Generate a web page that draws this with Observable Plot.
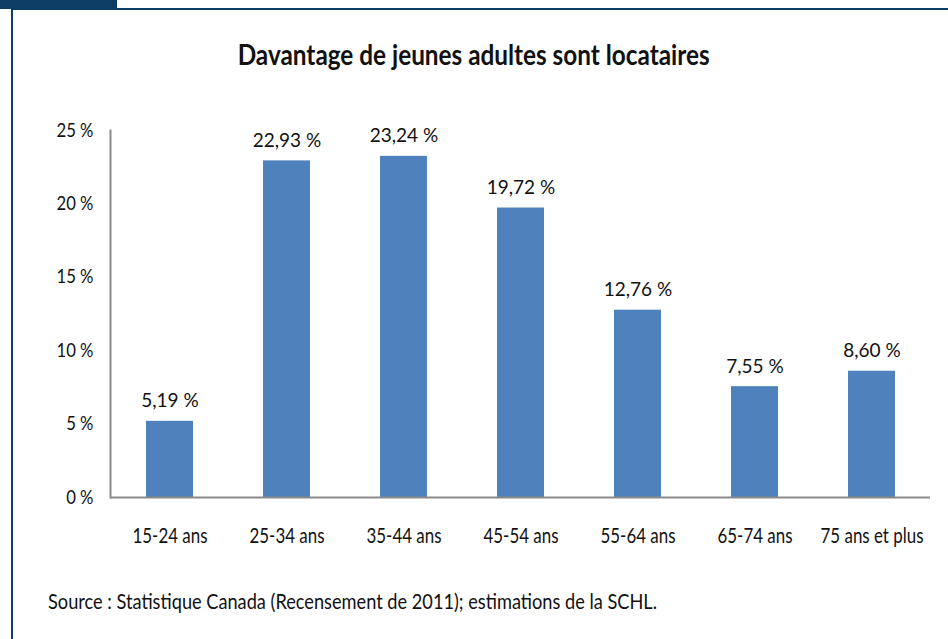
<!DOCTYPE html>
<html><head><meta charset="utf-8">
<script src="https://cdn.jsdelivr.net/npm/d3@7"></script>
<script src="https://cdn.jsdelivr.net/npm/@observablehq/plot@0.6"></script>
<style>
body{margin:0;background:#fff;}
#wrap{position:relative;width:948px;height:639px;overflow:hidden;font-family:Lato,sans-serif;color:#111;}
#blk{position:absolute;left:0;top:0;width:117px;height:9px;background:#0d3d62;}
#topline{position:absolute;left:11px;top:8px;width:937px;height:2px;background:#0d3d62;}
#leftline{position:absolute;left:11px;top:8px;width:2px;height:631px;background:#0d3d62;}
#title{position:absolute;left:0;width:948px;top:40px;text-align:center;font-weight:bold;font-size:28px;line-height:28px;white-space:nowrap;}
#title span{display:inline-block;transform-origin:50% 50%;}
#cap{position:absolute;left:48px;top:590px;font-size:22px;line-height:22px;white-space:nowrap;}
#cap span{display:inline-block;transform-origin:0 50%;}
#chart{position:absolute;left:0;top:0;}
</style></head>
<body>
<div id="wrap">
<div id="chart"></div>
<div id="blk"></div><div id="topline"></div><div id="leftline"></div>
<div id="title"><span>Davantage de jeunes adultes sont locataires</span></div>
<div id="cap"><span>Source : Statistique Canada (Recensement de 2011); estimations de la SCHL.</span></div>
</div>
<script>
const categories = ["15-24 ans","25-34 ans","35-44 ans","45-54 ans","55-64 ans","65-74 ans","75 ans et plus"];
const values = [5.19, 22.93, 23.24, 19.72, 12.76, 7.55, 8.60];
const valueLabels = ["5,19 %","22,93 %","23,24 %","19,72 %","12,76 %","7,55 %","8,60 %"];
const yTicks = [0,5,10,15,20,25];
const data = categories.map((c,i)=>({cat:c, v:values[i], label:valueLabels[i]}));
const font = 'Lato,sans-serif';
const chart = Plot.plot({
  width:948, height:639,
  marginLeft:110, marginRight:18, marginTop:130, marginBottom:142,
  x:{domain:categories, paddingInner:0.6, paddingOuter:0.3, label:null},
  y:{domain:[0,25], label:null},
  style:{fontFamily:font, fontSize:"19px", color:"#111", background:"transparent"},
  marks:[
    Plot.barY(data,{x:"cat", y:"v", fill:"#4F81BD"}),
    Plot.axisY({ticks:yTicks, tickFormat:d=>d+" %", tickSize:0, tickPadding:17, fontSize:19, label:null}),
    Plot.axisX({tickSize:0, tickPadding:31, fontSize:21, label:null}),
    Plot.ruleY([0],{stroke:"#8a8a8a", strokeWidth:2}),
    Plot.frame({anchor:"left", stroke:"#8a8a8a", strokeWidth:2}),
    Plot.text(data,{x:"cat", y:"v", text:"label", dy:-20, fontSize:19, fill:"#111", ariaLabel:"value-labels"})
  ]
});
document.getElementById("chart").appendChild(chart);

// condense the text horizontally (the reference uses a narrow humanist face)
function condense(selector, refText, targetWidth){
  const els = Array.from(chart.querySelectorAll(selector));
  const ref = els.find(e => e.textContent === refText) || els[0];
  if (!ref) return;
  const f = targetWidth / ref.getComputedTextLength();
  els.forEach(e => {
    const w = e.getComputedTextLength();
    e.setAttribute("textLength", w * f);
    e.setAttribute("lengthAdjust", "spacingAndGlyphs");
  });
}
condense('g[aria-label="y-axis tick label"] text', "25 %", 37);
condense('g[aria-label="x-axis tick label"] text', "15-24 ans", 75);
condense('g[aria-label="value-labels"] text', "22,93 %", 53);

function condenseHTML(id, target){
  const s = document.querySelector("#" + id + " span");
  const w = s.getBoundingClientRect().width;
  s.style.transform = "scaleX(" + (target / w) + ")";
}
condenseHTML("title", 472);
condenseHTML("cap", 609);
</script>
</body></html>
